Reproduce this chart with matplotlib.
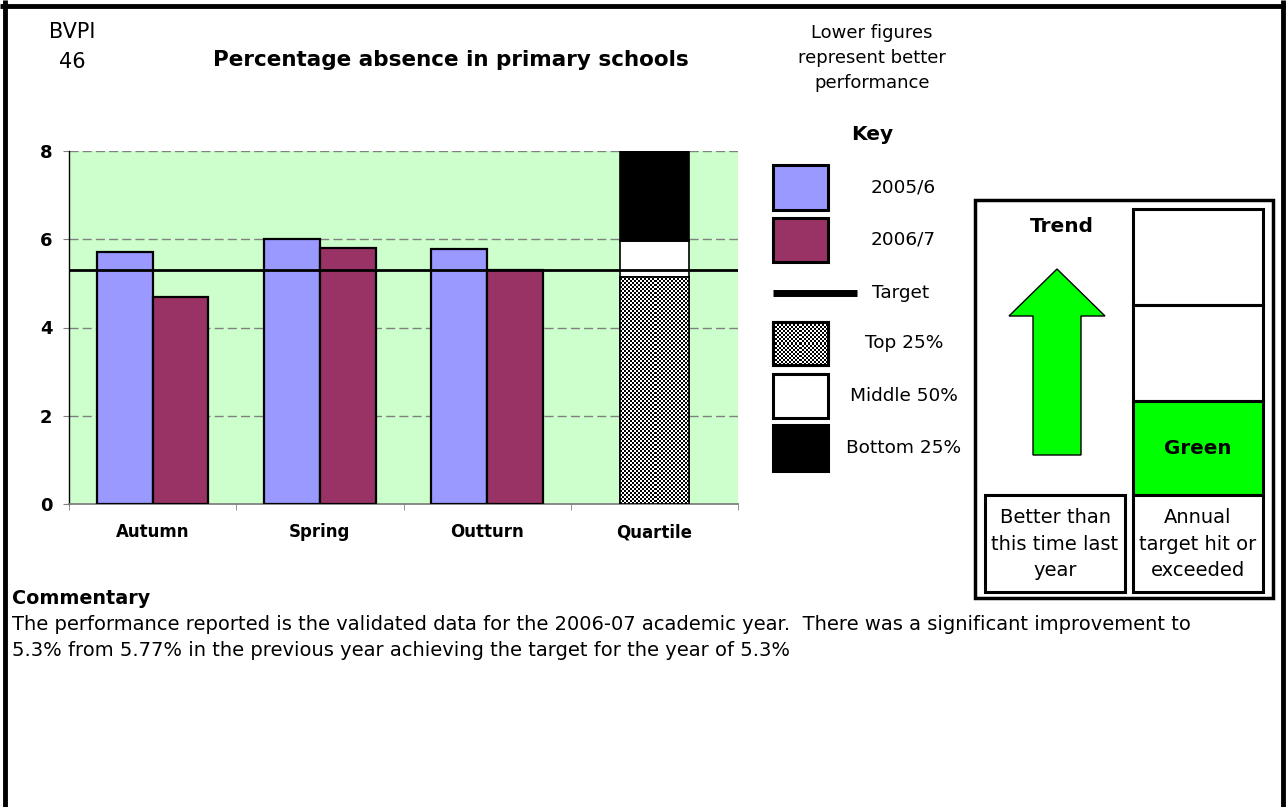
import numpy as np
import matplotlib
matplotlib.use("Agg")
import matplotlib.pyplot as plt
from matplotlib.patches import Rectangle, Polygon

plt.rcParams['font.family'] = ['DejaVu Sans']

# ---- data -------------------------------------------------------------
categories = ["Autumn", "Spring", "Outturn", "Quartile"]
series_names = ["2005/6", "2006/7"]
values_2005_6 = [5.7, 6.0, 5.77]
values_2006_7 = [4.7, 5.8, 5.3]
target = 5.3
# stacked quartile bands (Top 25%, Middle 50%, Bottom 25%)
quartile_labels = ["Top 25%", "Middle 50%", "Bottom 25%"]
quartile_bands = [5.15, 0.81, 2.04]
y_ticks = [0, 2, 4, 6, 8]

BLUE = "#9999FF"
MAROON = "#993366"
BG_GREEN = "#CCFFCC"
BRIGHT_GREEN = "#00FF00"
GRID_GREY = "#808080"

W, H = 1286, 807
fig = plt.figure(figsize=(W / 100, H / 100), dpi=100)

# overlay in pixel coordinates for the page furniture
ov = fig.add_axes([0, 0, 1, 1], zorder=0)
ov.set_xlim(0, W)
ov.set_ylim(H, 0)
ov.axis("off")
ov.patch.set_visible(False)


def checker(n_x, n_y):
    yy, xx = np.mgrid[0:n_y, 0:n_x]
    return ((xx + yy) % 2).astype(float)


# ---- main chart -------------------------------------------------------
L, R, T, B = 69, 738, 151, 504
ax = fig.add_axes([L / W, (H - B) / H, (R - L) / W, (B - T) / H], zorder=2)
ax.set_facecolor(BG_GREEN)

x = np.arange(len(categories))
bw = 1 / 3
ax.bar(x[:3] - bw / 2, values_2005_6, width=bw, color=BLUE,
       edgecolor="black", linewidth=1.6, zorder=3)
ax.bar(x[:3] + bw / 2, values_2006_7, width=bw, color=MAROON,
       edgecolor="black", linewidth=1.6, zorder=3)

qw = 0.41
bottom = 0.0
q_bars = []
for h, fc in zip(quartile_bands, ["white", "white", "black"]):
    b = ax.bar(x[3], h, width=qw, bottom=bottom, color=fc,
               edgecolor="black", linewidth=1.2, zorder=3)
    q_bars.append(b[0])
    bottom += h

# checkered fill for the top-quartile band
top_patch = q_bars[0]
x0 = top_patch.get_x()
im = ax.imshow(checker(34, 114), cmap="gray_r", interpolation="nearest",
               extent=(x0, x0 + top_patch.get_width(), 0, top_patch.get_height()),
               aspect="auto", zorder=3.5, vmin=0, vmax=1)
im.set_clip_path(top_patch)
ax.add_patch(Rectangle((x0, 0), top_patch.get_width(), top_patch.get_height(),
                       fill=False, edgecolor="black", linewidth=1.2, zorder=4))

ax.axhline(target, color="black", linewidth=2, zorder=5)

ax.set_xlim(-0.5, 3.5)
ax.set_ylim(0, 8)
ax.set_yticks(y_ticks)
ax.set_yticklabels([str(v) for v in y_ticks], fontweight="bold", fontsize=13)
ax.set_xticks(x)
ax.set_xticklabels(categories, fontweight="bold", fontsize=12)
ax.set_xticks(np.arange(-0.5, 4.0, 1.0), minor=True)
ax.tick_params(axis="x", which="major", length=0, pad=14)
ax.tick_params(axis="x", which="minor", length=4, color=GRID_GREY, direction="out")
ax.tick_params(axis="y", length=4, color=GRID_GREY, pad=8)
for yv in y_ticks[1:]:
    ax.axhline(yv, color=GRID_GREY, linewidth=1, dashes=(6.5, 3), zorder=1)
for s in ("top", "right"):
    ax.spines[s].set_visible(False)
ax.spines["left"].set_color("black")
ax.spines["left"].set_linewidth(1)
ax.spines["bottom"].set_color(GRID_GREY)
ax.spines["bottom"].set_linewidth(1.3)

# ---- page frame -------------------------------------------------------
ov.plot([0, W], [6, 6], color="black", linewidth=3.5, solid_capstyle="butt")
ov.plot([4.5, 4.5], [0, H], color="black", linewidth=3.5, solid_capstyle="butt")
ov.plot([1283, 1283], [0, H], color="black", linewidth=3.5, solid_capstyle="butt")

# ---- headings ---------------------------------------------------------
ov.text(72, 32, "BVPI", ha="center", va="center", fontsize=15)
ov.text(72, 62, "46", ha="center", va="center", fontsize=15)
ov.text(451, 60, "Percentage absence in primary schools", ha="center",
        va="center", fontsize=15.5, fontweight="bold")
ov.text(872, 58, "Lower figures\nrepresent better\nperformance", ha="center",
        va="center", fontsize=13, linespacing=1.5)
ov.text(872, 135, "Key", ha="center", va="center", fontsize=14.5,
        fontweight="bold")

# ---- key ----------------------------------------------------------------
sw_x0, sw_x1 = 773, 828
key_rows = [
    (165, 210, BLUE, series_names[0]),
    (218, 262, MAROON, series_names[1]),
]
for y0, y1, fc, lab in key_rows:
    ov.add_patch(Rectangle((sw_x0, y0), sw_x1 - sw_x0, y1 - y0, facecolor=fc,
                           edgecolor="black", linewidth=2.2))
    ov.text(903, (y0 + y1) / 2, lab, ha="center", va="center", fontsize=13.3)

ov.plot([773, 857], [293, 293], color="black", linewidth=5, solid_capstyle="butt")
ov.text(872, 293, "Target", ha="left", va="center", fontsize=13.3)

q_rows = [(322, 365), (374, 418), (425, 471)]
for (y0, y1), lab, fc in zip(q_rows, quartile_labels, ["white", "white", "black"]):
    ov.add_patch(Rectangle((sw_x0, y0), sw_x1 - sw_x0, y1 - y0, facecolor=fc,
                           edgecolor="black", linewidth=2.2, zorder=2))
    ov.text(904, (y0 + y1) / 2, lab, ha="center", va="center", fontsize=13.3)
# checkered key swatch
y0, y1 = q_rows[0]
ov.imshow(checker(27, 21), cmap="gray_r", interpolation="nearest",
          extent=(sw_x0, sw_x1, y1, y0), aspect="auto", zorder=2.5,
          vmin=0, vmax=1)
ov.add_patch(Rectangle((sw_x0, y0), sw_x1 - sw_x0, y1 - y0, fill=False,
                       edgecolor="black", linewidth=2.2, zorder=3))
ov.set_xlim(0, W)
ov.set_ylim(H, 0)

# ---- trend / status panel ----------------------------------------------
ov.add_patch(Rectangle((975, 200), 1273 - 975, 598 - 200, fill=False,
                       edgecolor="black", linewidth=2.5))
col_x0, col_x1 = 1133, 1263
for y0, y1, fc in [(209, 305, "white"), (305, 401, "white"),
                   (401, 495, BRIGHT_GREEN), (495, 592, "white")]:
    ov.add_patch(Rectangle((col_x0, y0), col_x1 - col_x0, y1 - y0,
                           facecolor=fc, edgecolor="black", linewidth=2.2))
ov.add_patch(Rectangle((985, 495), 1125 - 985, 592 - 495, facecolor="white",
                       edgecolor="black", linewidth=2.2))

ov.text(1062, 227, "Trend", ha="center", va="center", fontsize=14.5,
        fontweight="bold")
arrow = Polygon([(1057, 269), (1105, 316), (1081, 316), (1081, 455),
                 (1033, 455), (1033, 316), (1009, 316)], closed=True,
                facecolor=BRIGHT_GREEN, edgecolor="black", linewidth=1)
ov.add_patch(arrow)
ov.text(1198, 448, "Green", ha="center", va="center", fontsize=14.3,
        fontweight="bold")
ov.text(1055, 544, "Better than\nthis time last\nyear", ha="center",
        va="center", fontsize=14, linespacing=1.5)
ov.text(1198, 544, "Annual\ntarget hit or\nexceeded", ha="center",
        va="center", fontsize=14, linespacing=1.5)

# ---- commentary -------------------------------------------------------
ov.text(12, 598, "Commentary", ha="left", va="center", fontsize=13.8,
        fontweight="bold")
ov.text(12, 624, "The performance reported is the validated data for the 2006-07 "
        "academic year.  There was a significant improvement to",
        ha="left", va="center", fontsize=14)
ov.text(12, 650, "5.3% from 5.77% in the previous year achieving the target "
        "for the year of 5.3%", ha="left", va="center", fontsize=14)

fig.savefig("out.png", dpi=100)
